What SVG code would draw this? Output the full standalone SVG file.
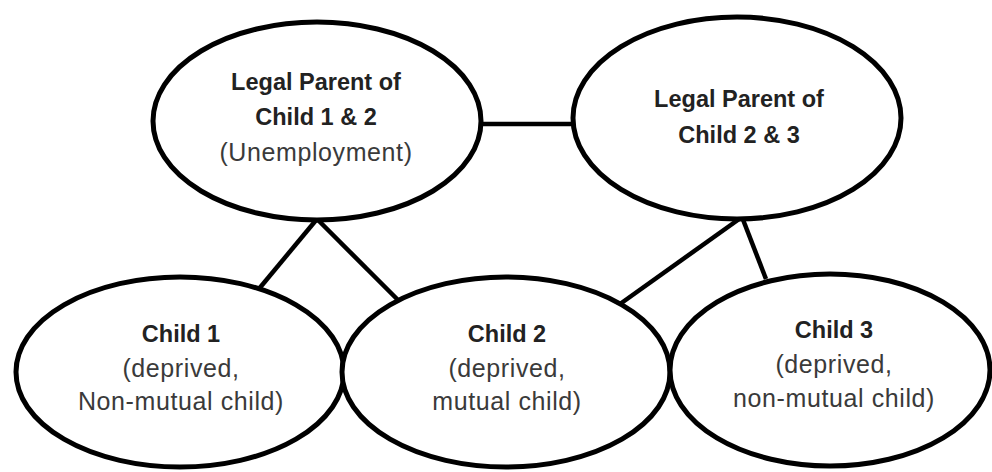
<svg xmlns="http://www.w3.org/2000/svg" width="992" height="472" viewBox="0 0 992 472">
<style>
.node{fill:#fff;stroke:#000;stroke-width:5}
.conn{stroke:#000;stroke-width:4.5;fill:none}
text{font-family:"Liberation Sans",Arial,sans-serif;text-anchor:middle}
.b{font-weight:bold;font-size:23.5px;fill:#222}
.r{font-size:25px;letter-spacing:0.6px;fill:#3a3a3a}
</style>
<rect width="992" height="472" fill="#fff"/>
<g id="connectors">
<line class="conn" x1="478" y1="124" x2="576" y2="124"/>
<line class="conn" x1="317" y1="219" x2="258" y2="290"/>
<line class="conn" x1="317" y1="219" x2="400" y2="302"/>
<line class="conn" x1="742" y1="217" x2="620" y2="304"/>
<line class="conn" x1="742" y1="217" x2="766" y2="279"/>
</g>
<g id="parent1">
<ellipse class="node" cx="317" cy="121" rx="164" ry="99"/>
<text class="b" x="316" y="90">Legal Parent of</text>
<text class="b" x="316" y="125">Child 1 &amp; 2</text>
<text class="r" x="316" y="161">(Unemployment)</text>
</g>
<g id="parent2">
<ellipse class="node" cx="737" cy="118" rx="164" ry="101"/>
<text class="b" x="739" y="107">Legal Parent of</text>
<text class="b" x="739" y="143">Child 2 &amp; 3</text>
</g>
<g id="child1">
<ellipse class="node" cx="180" cy="372" rx="164" ry="95"/>
<text class="b" x="181" y="342">Child 1</text>
<text class="r" x="181" y="377">(deprived,</text>
<text class="r" x="181" y="410">Non-mutual child)</text>
</g>
<g id="child2">
<ellipse class="node" cx="506" cy="372" rx="164" ry="95"/>
<text class="b" x="507" y="342">Child 2</text>
<text class="r" x="507" y="377">(deprived,</text>
<text class="r" x="507" y="410">mutual child)</text>
</g>
<g id="child3">
<ellipse class="node" cx="830" cy="370" rx="160" ry="96"/>
<text class="b" x="834" y="338">Child 3</text>
<text class="r" x="834" y="373">(deprived,</text>
<text class="r" x="834" y="407">non-mutual child)</text>
</g>
</svg>
